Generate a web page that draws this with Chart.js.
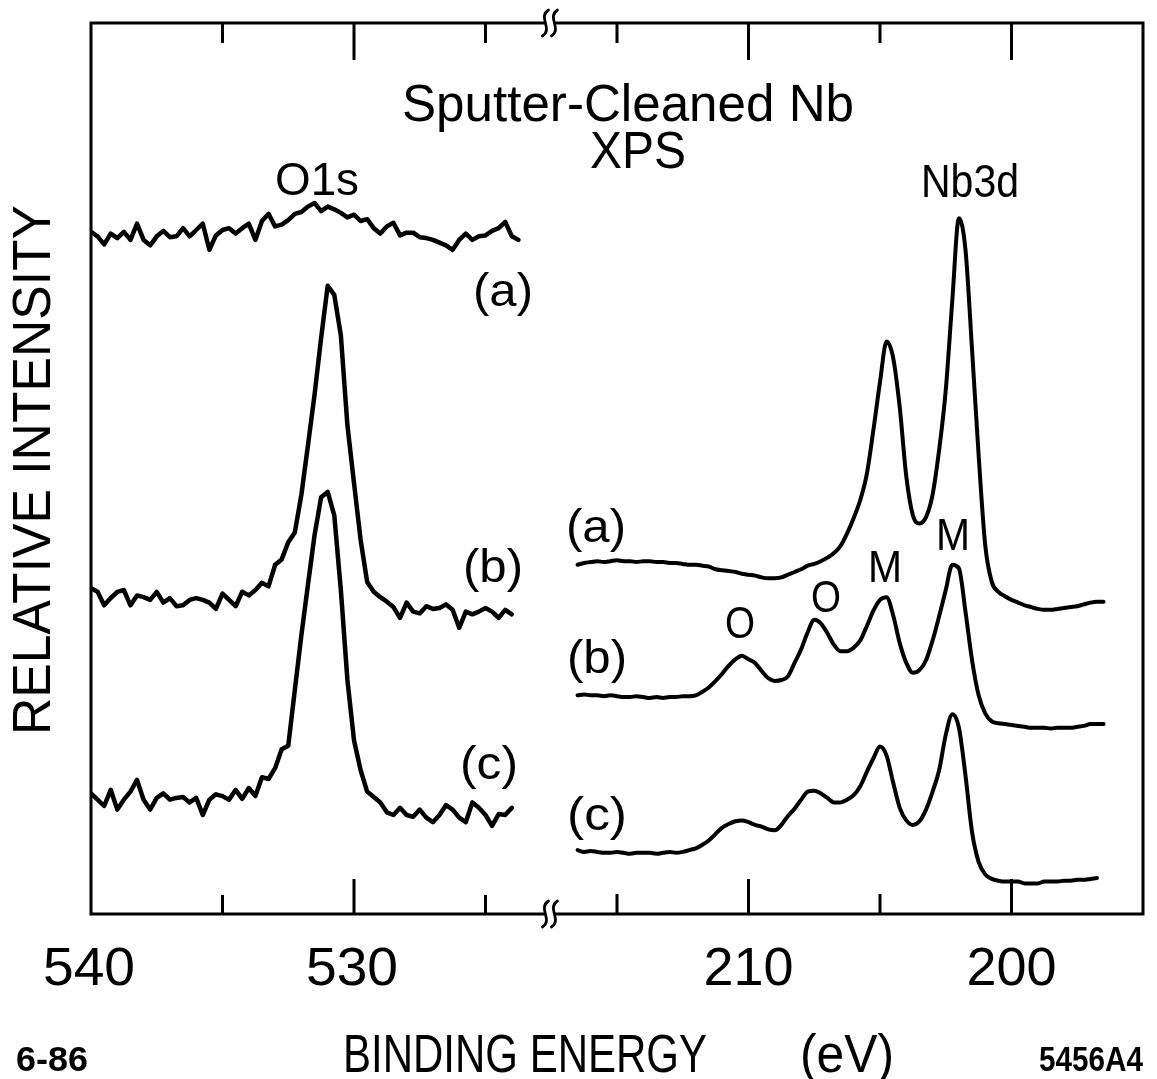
<!DOCTYPE html>
<html>
<head>
<meta charset="utf-8">
<title>Sputter-Cleaned Nb XPS</title>
<script src="https://cdn.jsdelivr.net/npm/chart.js@4"></script>
<style>
  html, body { margin: 0; padding: 0; background: #fff; }
  canvas { display: block; }
</style>
</head>
<body>
<canvas id="xps" width="1157" height="1079"></canvas>
<script>
// binding energy grids (eV)
var leftEnergy = [540, 539.75, 539.5, 539.25, 539, 538.75, 538.5, 538.25, 538, 537.75, 537.5, 537.25, 537, 536.75, 536.5, 536.25,
    536, 535.75, 535.5, 535.25, 535, 534.75, 534.5, 534.25, 534, 533.75, 533.5, 533.25, 533, 532.75, 532.5, 532.25,
    532, 531.75, 531.5, 531.25, 531, 530.75, 530.5, 530.25, 530, 529.75, 529.5, 529.25, 529, 528.75, 528.5, 528.25,
    528, 527.75, 527.5, 527.25, 527, 526.75, 526.5, 526.25, 526, 525.75, 525.5, 525.25, 525, 524.75, 524.5, 524.25,
    524, 523.75];
var rightEnergy = [216.5, 216.25, 216, 215.75, 215.5, 215.25, 215, 214.75, 214.5, 214.25, 214, 213.75, 213.5, 213.25, 213, 212.75,
    212.5, 212.25, 212, 211.75, 211.5, 211.25, 211, 210.75, 210.5, 210.25, 210, 209.75, 209.5, 209.25, 209, 208.75,
    208.5, 208.25, 208, 207.75, 207.5, 207.25, 207, 206.75, 206.5, 206.25, 206, 205.75, 205.5, 205.25, 205, 204.75,
    204.5, 204.25, 204, 203.75, 203.5, 203.25, 203, 202.75, 202.5, 202.25, 202, 201.75, 201.5, 201.25, 201, 200.75,
    200.5, 200.25, 200, 199.75, 199.5, 199.25, 199, 198.75, 198.5, 198.25, 198, 197.75, 197.5, 197.25, 197, 196.75,
    196.5];

// O1s spectra (offset, arbitrary units)
var o1sA = [75.8, 75.3, 74.4, 75.6, 75.1, 75.8, 74.9, 76.7, 74.9, 74.3, 75.3, 75.9, 75.2, 75.3, 76.2, 75.3,
    76.0, 76.7, 73.8, 75.4, 76.0, 76.2, 75.6, 76.2, 76.7, 74.9, 77.0, 77.8, 76.4, 76.6, 77.1, 77.8,
    78.0, 78.6, 79.0, 78.1, 78.6, 78.3, 77.9, 77.4, 77.7, 77.0, 77.2, 76.2, 75.6, 76.4, 76.8, 75.4,
    75.7, 75.7, 75.2, 75.1, 74.9, 74.6, 74.3, 73.8, 74.9, 75.6, 74.9, 75.3, 75.4, 75.9, 76.2, 76.9,
    75.3, 74.9];
var o1sB = [36.2, 35.8, 34.3, 35.1, 35.8, 36.0, 34.3, 35.4, 35.2, 34.9, 35.8, 34.6, 35.1, 34.2, 34.3, 34.9,
    35.1, 34.9, 34.6, 33.9, 35.6, 34.9, 34.2, 35.8, 35.4, 36.0, 36.8, 36.4, 38.8, 39.4, 41.3, 42.4,
    46.6, 52.1, 57.7, 64.0, 69.8, 68.8, 64.3, 54.3, 47.9, 41.6, 36.9, 35.8, 35.2, 34.7, 34.1, 32.9,
    34.6, 33.6, 33.4, 34.2, 33.9, 34.0, 34.4, 33.8, 31.8, 33.6, 33.3, 33.6, 34.0, 33.6, 32.9, 33.8,
    33.3, null];
var o1sC = [13.4, 12.7, 12.0, 13.8, 11.6, 12.7, 13.6, 14.9, 12.7, 11.6, 12.9, 13.4, 12.7, 12.9, 13.0, 12.4,
    12.9, 11.0, 12.7, 13.3, 13.1, 12.7, 13.8, 12.8, 14.0, 13.1, 15.2, 15.0, 16.2, 18.3, 18.7, 24.9,
    31.0, 36.6, 42.1, 46.3, 46.9, 44.3, 36.0, 26.0, 19.3, 16.0, 13.6, 13.0, 12.4, 11.3, 11.0, 11.8,
    11.0, 10.8, 11.6, 10.7, 10.2, 11.0, 12.1, 11.6, 10.7, 10.2, 12.4, 11.8, 11.0, 9.8, 11.1, 11.0,
    11.8, null];

// Nb3d spectra
var nb3dA = [38.8, 39.0, 39.1, 39.2, 39.1, 39.2, 39.3, 39.2, 39.2, 39.1, 39.2, 39.2, 39.1, 39.1, 39.0, 39.0,
    38.9, 38.8, 38.8, 38.7, 38.6, 38.3, 38.2, 38.1, 38.0, 37.8, 37.7, 37.6, 37.4, 37.3, 37.3, 37.4,
    37.7, 38.0, 38.3, 38.7, 38.9, 39.2, 39.6, 40.1, 40.9, 42.3, 44.0, 46.0, 48.9, 53.8, 59.1, 63.6,
    61.8, 56.3, 48.6, 44.3, 43.4, 44.1, 46.6, 51.6, 58.2, 68.2, 77.3, 73.8, 62.7, 51.0, 41.0, 36.9,
    35.8, 35.3, 34.9, 34.6, 34.3, 34.1, 33.9, 33.8, 33.8, 33.9, 34.0, 34.1, 34.2, 34.4, 34.6, 34.7,
    34.7];
var nb3dB = [24.3, 24.4, 24.3, 24.3, 24.2, 24.3, 24.2, 24.1, 24.1, 24.2, 24.1, 24.0, 24.1, 24.0, 24.1, 24.1,
    24.2, 24.2, 24.3, 24.7, 25.2, 25.9, 26.7, 27.6, 28.3, 28.7, 28.3, 27.9, 27.0, 26.2, 25.9, 26.0,
    26.4, 27.9, 29.4, 31.3, 32.7, 32.3, 31.2, 29.9, 29.2, 29.2, 29.6, 30.4, 32.0, 33.7, 34.9, 35.2,
    33.2, 30.1, 27.9, 26.8, 27.1, 28.2, 30.4, 33.1, 36.0, 38.8, 38.4, 33.6, 28.2, 24.3, 22.3, 21.4,
    21.2, 21.1, 21.0, 20.9, 20.8, 20.7, 20.7, 20.7, 20.6, 20.7, 20.7, 20.7, 20.8, 20.9, 21.1, 21.1,
    21.1];
var nb3dC = [7.1, 6.9, 7.0, 6.9, 6.8, 6.8, 6.9, 6.8, 6.7, 6.8, 6.8, 6.8, 6.7, 6.8, 6.9, 6.8,
    6.9, 7.1, 7.3, 7.7, 8.2, 8.9, 9.6, 10.0, 10.3, 10.4, 10.2, 9.9, 9.7, 9.4, 9.3, 9.9,
    10.9, 11.7, 12.7, 13.6, 13.7, 13.4, 12.9, 12.4, 12.4, 12.7, 13.2, 14.2, 15.8, 17.3, 18.6, 17.6,
    14.6, 11.8, 10.4, 9.9, 10.3, 11.6, 13.6, 16.0, 19.9, 22.2, 20.7, 15.4, 9.1, 5.8, 4.4, 3.9,
    3.7, 3.6, 3.6, 3.6, 3.4, 3.4, 3.4, 3.6, 3.6, 3.6, 3.7, 3.7, 3.8, 3.8, 3.9, 4.0,
    null];

// axis ticks (eV)
var leftMajor = [540, 530];
var leftMinor = [535, 525];
var rightMajor = [210, 200];
var rightMinor = [215, 205];
var breakEnergy = 522.55; // where the O1s window stops on the upper scale

function pairs(xs, ys) {
    return xs.map(function (x, i) { return { x: x, y: ys[i] }; });
}

var FONT = '"Liberation Sans", Arial, sans-serif';

// draw text centred on cx, squeezed/stretched to a given width
function label(ctx, text, cx, base, size, width, rot, weight) {
    ctx.save();
    ctx.font = (weight || 'normal') + ' ' + size + 'px ' + FONT;
    var w = ctx.measureText(text).width;
    ctx.translate(cx, base);
    if (rot) ctx.rotate(rot);
    ctx.scale(width ? width / w : 1, 1);
    ctx.textAlign = 'center';
    ctx.textBaseline = 'alphabetic';
    ctx.fillStyle = '#000';
    ctx.fillText(text, 0, 0);
    ctx.restore();
}

var paper = {
    id: 'paper',
    beforeDraw: function (chart) {
        var ctx = chart.ctx;
        ctx.save();
        ctx.fillStyle = '#fff';
        ctx.fillRect(0, 0, chart.width, chart.height);
        ctx.restore();
    },
    afterDraw: function (chart) {
        var ctx = chart.ctx;
        var a = chart.chartArea;
        var xl = chart.scales.xl, xr = chart.scales.xr;
        var bx = xl.getPixelForValue(breakEnergy);

        ctx.save();
        ctx.strokeStyle = '#000';
        ctx.lineWidth = 3;
        ctx.lineCap = 'butt';

        // frame, open at the axis break
        ctx.beginPath();
        ctx.moveTo(bx - 5, a.top);
        ctx.lineTo(a.left, a.top);
        ctx.lineTo(a.left, a.bottom);
        ctx.lineTo(bx - 5, a.bottom);
        ctx.moveTo(bx + 5, a.top);
        ctx.lineTo(a.right, a.top);
        ctx.lineTo(a.right, a.bottom);
        ctx.lineTo(bx + 5, a.bottom);
        ctx.stroke();

        // tick marks on top and bottom edges
        function ticks(scale, values, lenTop, lenBot) {
            values.forEach(function (v) {
                var px = scale.getPixelForValue(v);
                if (px <= a.left + 2) return;
                ctx.beginPath();
                ctx.moveTo(px, a.top);
                ctx.lineTo(px, a.top + lenTop);
                ctx.moveTo(px, a.bottom);
                ctx.lineTo(px, a.bottom - lenBot);
                ctx.stroke();
            });
        }
        ticks(xl, leftMajor, 37, 35);
        ticks(xl, leftMinor, 20, 19);
        ticks(xr, rightMajor, 37, 35);
        ticks(xr, rightMinor, 20, 20);

        // break marks
        ctx.lineWidth = 2.8;
        ctx.lineCap = 'round';
        [a.top, a.bottom].forEach(function (y) {
            [-4.5, 4.5].forEach(function (d) {
                var x = bx + d;
                ctx.beginPath();
                ctx.moveTo(x + 3, y - 13);
                ctx.bezierCurveTo(x - 8, y - 6, x + 8, y + 6, x - 3, y + 13);
                ctx.stroke();
            });
        });
        ctx.restore();

        // tick labels
        leftMajor.forEach(function (v) {
            label(ctx, String(v), xl.getPixelForValue(v) - 2, 985, 54, 92);
        });
        rightMajor.forEach(function (v) {
            label(ctx, String(v), xr.getPixelForValue(v), 985, 54, 90);
        });

        // titles and axis names
        label(ctx, 'Sputter-Cleaned Nb', 628, 121, 52, 452);
        label(ctx, 'XPS', 638, 168, 52, 96);
        label(ctx, 'O1s', 317, 195, 46, 84);
        label(ctx, 'Nb3d', 970, 197, 46, 98);
        label(ctx, 'BINDING ENERGY', 525, 1072, 54, 364);
        label(ctx, '(eV)', 847, 1072, 54, 94);
        label(ctx, 'RELATIVE INTENSITY', 50, 470, 53, 530, -Math.PI / 2);
        label(ctx, '6-86', 52, 1071, 35, 72, 0, 'bold');
        label(ctx, '5456A4', 1091, 1071, 35, 104, 0, 'bold');

        // curve tags
        label(ctx, '(a)', 503, 306, 46, 60);
        label(ctx, '(b)', 493, 582, 46, 60);
        label(ctx, '(c)', 489, 779, 46, 58);
        label(ctx, '(a)', 596, 542, 46, 60);
        label(ctx, '(b)', 597, 673, 46, 60);
        label(ctx, '(c)', 597, 830, 46, 60);
        label(ctx, 'O', 740, 638, 44, 30);
        label(ctx, 'O', 826, 612, 44, 30);
        label(ctx, 'M', 885, 582, 44, 34);
        label(ctx, 'M', 953, 550, 44, 34);
    }
};

function spectrum(xs, ys, axis, width, smooth) {
    return {
        data: pairs(xs, ys),
        xAxisID: axis,
        borderColor: '#000',
        borderWidth: width,
        pointRadius: 0,
        fill: false,
        tension: 0,
        cubicInterpolationMode: smooth ? 'monotone' : 'default',
        borderJoinStyle: 'round',
        borderCapStyle: 'round'
    };
}

var ctx = document.getElementById('xps').getContext('2d');
var xpsChart = new Chart(ctx, {
    type: 'line',
    data: {
        datasets: [
            spectrum(leftEnergy, o1sA, 'xl', 4.5, false),
            spectrum(leftEnergy, o1sB, 'xl', 4.5, false),
            spectrum(leftEnergy, o1sC, 'xl', 4.5, false),
            spectrum(rightEnergy, nb3dA, 'xr', 4, true),
            spectrum(rightEnergy, nb3dB, 'xr', 4, true),
            spectrum(rightEnergy, nb3dC, 'xr', 4, true)
        ]
    },
    options: {
        responsive: false,
        animation: false,
        layout: { padding: { left: 91, top: 23, right: 14, bottom: 165 } },
        plugins: { legend: { display: false }, tooltip: { enabled: false } },
        scales: {
            xl: { type: 'linear', axis: 'x', reverse: true, min: 500, max: 540, display: false },
            xr: { type: 'linear', axis: 'x', reverse: true, min: 195, max: 235, display: false },
            y: { type: 'linear', min: 0, max: 99, display: false }
        }
    },
    plugins: [paper]
});
</script>
</body>
</html>
